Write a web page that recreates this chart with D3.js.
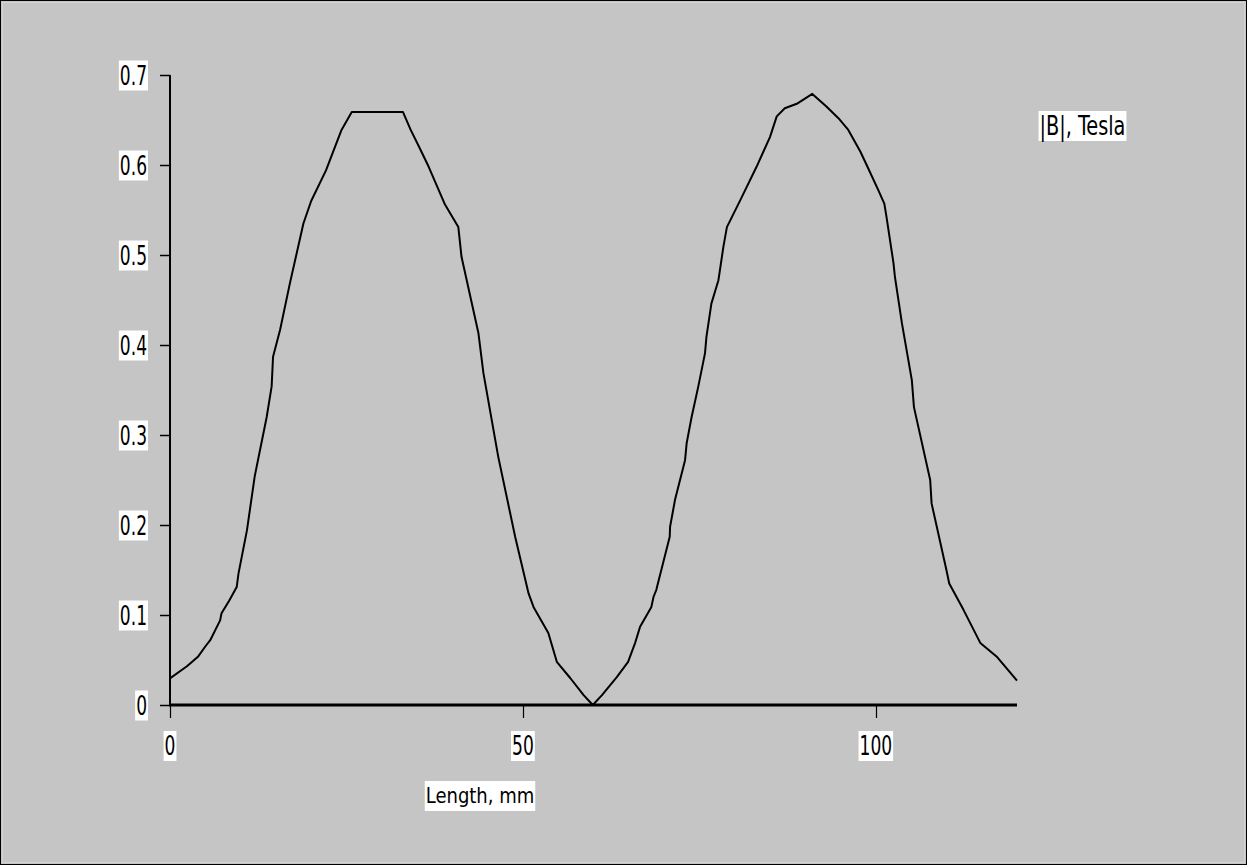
<!DOCTYPE html>
<html>
<head>
<meta charset="utf-8">
<script src="https://cdn.jsdelivr.net/npm/d3@7"></script>
<style>
  html, body { margin: 0; padding: 0; background: #c5c5c5; }
  svg { display: block; }
  text { font-family: "DejaVu Sans Condensed", "DejaVu Sans", sans-serif; fill: #000; }
</style>
</head>
<body>
<svg id="chart" width="1247" height="865"></svg>
<script>
// Data: length (mm) and |B| (Tesla)
const lengthMm = [0, 2.4, 4.0, 5.0, 5.7, 7.1, 7.3, 8.4, 9.45, 9.7, 10.9, 12.0, 13.7, 14.4, 14.6, 15.6, 17.0, 18.9, 20.0, 22.1, 24.3, 25.75,
  33.0, 34.1, 35.3, 36.65, 38.96, 40.85, 41.3, 43.7, 44.4, 46.5, 48.9, 50.8, 51.5, 53.6, 54.8, 56.7, 58.6, 59.9,
  61.2, 63.3, 64.9, 65.9, 66.6, 68.2, 68.5, 68.9, 70.8, 70.85, 71.55, 72.97, 73.2, 73.9, 74.85, 75.8, 76.0, 76.7, 77.7, 78.4, 78.9,
  80.8, 83.1, 85.0, 85.96, 87.1, 88.8, 91.0, 93.0, 94.7, 96.1, 97.8, 98.7, 100.35, 101.2, 101.5, 102.5, 102.7, 103.7,
  105.1, 105.4, 107.7, 107.9, 110.0, 110.4, 112.4, 114.8, 117.1, 120];
const fieldTesla = [0.0296, 0.043, 0.054, 0.065, 0.072, 0.094, 0.102, 0.116, 0.131, 0.146, 0.194, 0.254, 0.320, 0.354, 0.387, 0.417, 0.469, 0.535, 0.56, 0.594, 0.639, 0.659,
  0.659, 0.639, 0.62, 0.598, 0.556, 0.531, 0.498, 0.413, 0.369, 0.276, 0.187, 0.124, 0.109, 0.080, 0.048, 0.030, 0.011, 0.0,
  0.011, 0.031, 0.048, 0.069, 0.087, 0.109, 0.12, 0.128, 0.187, 0.198, 0.228, 0.272, 0.291, 0.320, 0.354, 0.391, 0.409, 0.446, 0.472, 0.509, 0.531,
  0.561, 0.598, 0.631, 0.654, 0.663, 0.668, 0.679, 0.665, 0.652, 0.639, 0.615, 0.600, 0.572, 0.557, 0.543, 0.491, 0.476, 0.424,
  0.361, 0.331, 0.25, 0.224, 0.15, 0.135, 0.106, 0.069, 0.054, 0.027];
const xTicks = [0, 50, 100];
const yTicks = [0, 0.1, 0.2, 0.3, 0.4, 0.5, 0.6, 0.7];
const xTitle = "Length, mm";
const seriesName = "|B|, Tesla";

const svg = d3.select("#chart");
const W = 1247, H = 865;

svg.append("rect").attr("x", 0.5).attr("y", 0.5).attr("width", W - 1).attr("height", H - 1)
  .attr("fill", "#c5c5c5").attr("stroke", "#000").attr("stroke-width", 1);
svg.append("rect").attr("x", 2.5).attr("y", 2.5).attr("width", W - 5).attr("height", H - 5)
  .attr("fill", "none").attr("stroke", "#d2d2d2").attr("stroke-width", 1);

const x = d3.scaleLinear().domain([0, 120]).range([170, 1017]);
const y = d3.scaleLinear().domain([0, 0.7]).range([705, 75]);

// text label on a white box; sy stretches glyphs vertically to match the narrow tall reference font
function labelBox(parent, txt, px, py, anchor, size, sy) {
  const g = parent.append("g");
  const rect = g.append("rect").attr("fill", "#fff");
  const tg = g.append("g").attr("transform", `translate(${px},${py}) scale(1,${sy})`);
  const t = tg.append("text").attr("x", 0).attr("y", 0).attr("text-anchor", anchor)
    .attr("dominant-baseline", "central").style("font-size", size + "px").text(txt);
  const b = t.node().getBBox();
  rect.attr("x", px + b.x - 1).attr("y", py - 15).attr("width", b.width + 2).attr("height", 30);
}

// Y axis
const yAxis = svg.append("g");
yAxis.append("line").attr("x1", 170).attr("x2", 170).attr("y1", y(0.7)).attr("y2", y(0) + 1)
  .attr("stroke", "#000").attr("stroke-width", 2);
yTicks.forEach(v => {
  yAxis.append("line").attr("x1", 160).attr("x2", 170).attr("y1", Math.round(y(v)) + 0.5).attr("y2", Math.round(y(v)) + 0.5)
    .attr("stroke", "#000").attr("stroke-width", 1.5);
  labelBox(yAxis, v === 0 ? "0" : d3.format(".1f")(v), 147, y(v) + 0.5, "end", 19, 1.37);
});

// X axis
const xAxis = svg.append("g");
xTicks.forEach(v => {
  xAxis.append("line").attr("x1", Math.round(x(v)) + 0.5).attr("x2", Math.round(x(v)) + 0.5).attr("y1", 705).attr("y2", 718)
    .attr("stroke", "#000").attr("stroke-width", 1.2);
  labelBox(xAxis, String(v), x(v), 746, "middle", 19, 1.37);
});

// Line
svg.append("path").datum(lengthMm.map((d, i) => [d, fieldTesla[i]]))
  .attr("fill", "none").attr("stroke", "#000").attr("stroke-width", 2).attr("stroke-linejoin", "round")
  .attr("d", d3.line().x(d => x(d[0])).y(d => y(d[1])));

xAxis.append("line").attr("x1", 169).attr("x2", 1017).attr("y1", 705).attr("y2", 705)
  .attr("stroke", "#000").attr("stroke-width", 3);

// Axis title
labelBox(svg, xTitle, 480, 796, "middle", 20, 1.05);
// Legend
labelBox(svg, seriesName, 1082.5, 126, "middle", 21.5, 1.27);
</script>
</body>
</html>
